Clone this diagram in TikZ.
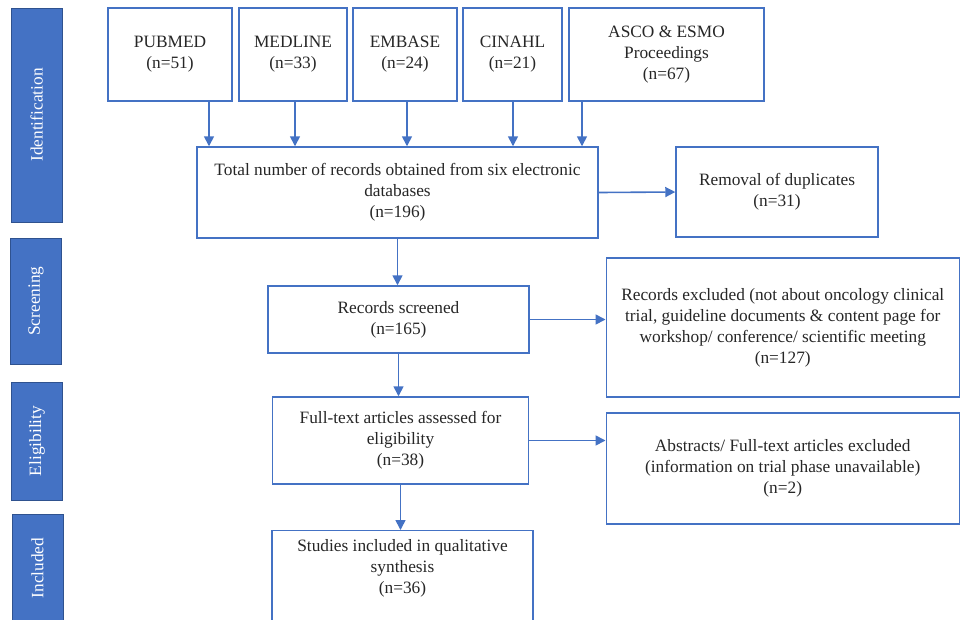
\documentclass[tikz,border=0pt]{standalone}
\usepackage{fontspec}
\setmainfont{Liberation Serif}
\usetikzlibrary{arrows.meta}
\definecolor{boxblue}{HTML}{4472C4}
\definecolor{bardark}{HTML}{2F528F}
\definecolor{txtgray}{HTML}{262626}

\begin{document}
\begin{tikzpicture}[x=0.75pt,y=-0.75pt,
        box/.style={draw=boxblue,line width=1.1pt,rectangle,align=center,inner sep=0pt,
                text=txtgray,font=\fontsize{13pt}{15.75pt}\selectfont},
        phase/.style={draw=bardark,fill=boxblue,line width=0.6pt,rotate=90,minimum height=38.25pt,
                text=white,font=\fontsize{13pt}{15.5pt}\selectfont},
        flow/.style={draw=boxblue,line width=1.2pt,-{Triangle[width=7.5pt,length=7.5pt]}}]
        \clip (0,0) rectangle (960,619);
        \node (ident) [phase,minimum width=160.5pt] at (36.5,115) {Identification};
        \node (screen) [phase,minimum width=94.5pt] at (36,301) {Screening};
        \node (elig) [phase,minimum width=88.5pt] at (37,441) {Eligibility};
        \node (incl) [phase,minimum width=81pt] at (37.5,568) {Included};
        \node (pubmed) [box,minimum width=93pt,minimum height=69.75pt] at (170,54.5) {PUBMED\\(n=51)};
        \node (medline) [box,minimum width=81pt,minimum height=69.75pt] at (293,54.5) {MEDLINE\\(n=33)};
        \node (embase) [box,minimum width=78pt,minimum height=69.75pt] at (405,54.5) {EMBASE\\(n=24)};
        \node (cinahl) [box,minimum width=74.25pt,minimum height=69.75pt] at (512.5,54.5) {CINAHL\\(n=21)};
        \node (asco) [box,minimum width=146.25pt,minimum height=69.75pt] at (666.5,54.5) {ASCO \& ESMO\\Proceedings\\(n=67)};
        \node (total) [box,minimum width=300.75pt,minimum height=68.25pt] at (397.5,192.5) {Total number of records obtained from six electronic\\databases\\(n=196)};
        \node (removal) [box,minimum width=151.5pt,minimum height=67.5pt] at (777,192) {Removal of duplicates\\(n=31)};
        \node (screened) [box,minimum width=195.75pt,minimum height=50.25pt] at (398.5,319.5) {Records screened\\(n=165)};
        \node (excluded) [box,minimum width=264.75pt,minimum height=104.25pt] at (782.75,327.5) {Records excluded (not about oncology clinical\\trial, guideline documents \& content page for\\workshop/ conference/ scientific meeting\\(n=127)};
        \node (fulltext) [box,minimum width=192pt,minimum height=65.25pt] at (400.5,440.5) {Full-text articles assessed for\\eligibility\\(n=38)};
        \node (abstracts) [box,minimum width=264.75pt,minimum height=83.25pt] at (782.75,468.5) {Abstracts/ Full-text articles excluded\\(information on trial phase unavailable)\\(n=2)};
        \node (studies) [box,minimum width=195.75pt,minimum height=97.5pt,anchor=north] at (402.5,530) {};
        \node (studiestext) [box,draw=none] at (402.5,568) {Studies included in qualitative\\synthesis\\(n=36)};
        \foreach \src/\xx in {pubmed/209,medline/295,embase/407,cinahl/513,asco/582}
                \draw (\src.south -| \xx,0) edge [flow] (total.north -| \xx,0);
        \draw (total.east) edge [flow] (removal.west);
        \draw (total.south) edge [flow] (total.south |- screened.north);
        \draw (screened.east) edge [flow] (screened.east -| excluded.west);
        \draw (screened.south) edge [flow] (screened.south |- fulltext.north);
        \draw (fulltext.east) edge [flow] (fulltext.east -| abstracts.west);
        \draw (fulltext.south) edge [flow] (fulltext.south |- studies.north);
\end{tikzpicture}
\end{document}
